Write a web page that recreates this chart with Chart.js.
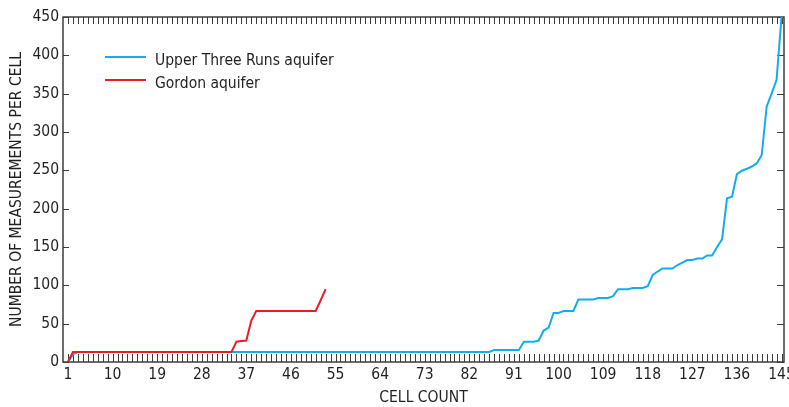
<!DOCTYPE html>
<html>
<head>
<meta charset="utf-8">
<script src="https://cdn.jsdelivr.net/npm/chart.js@4.4.1/dist/chart.umd.min.js"></script>
<style>
  html, body { margin: 0; padding: 0; background: #ffffff; }
  #wrap { width: 789px; height: 407px; position: relative; }
  canvas { display: block; }
</style>
</head>
<body>
<div id="wrap"><canvas id="chart" width="789" height="407"></canvas></div>
<script>
// Cells ranked by number of measurements (cell count on x).
const cellNumbers = Array.from({ length: 145 }, (_, i) => i + 1);

// Measurements per cell, Upper Three Runs aquifer (cells 1-145).
const upperThreeRuns = [
  0, 10,
  13, 13, 13, 13, 13, 13, 13, 13, 13, 13, 13, 13,
  13, 13, 13, 13, 13, 13, 13, 13, 13, 13, 13, 13,
  13, 13, 13, 13, 13, 13, 13, 13, 13, 13, 13, 13,
  13, 13, 13, 13, 13, 13, 13, 13, 13, 13, 13, 13,
  13, 13, 13, 13, 13, 13, 13, 13, 13, 13, 13, 13,
  13, 13, 13, 13, 13, 13, 13, 13, 13, 13, 13, 13,
  13, 13, 13, 13, 13, 13, 13, 13, 13, 13, 13, 13,
  15.5, 15.5, 15.5, 15.5, 15.5, 15.5,
  26.5, 26.5, 26.5, 28, 41, 45, 64, 64,
  66.5, 66.5, 66.5, 81.5, 81.5, 81.5, 81.5,
  83.5, 83.5, 83.5, 86, 95, 95, 95,
  96.5, 96.5, 96.5, 99, 113.5, 118,
  122, 122, 122, 126.5, 129.5, 133, 133, 135, 135, 139, 139,
  150, 160, 213.5, 215.5, 245, 249.5, 252, 255, 259, 270,
  333, 350, 368, 450
];

// Measurements per cell, Gordon aquifer (cells 1-53).
const gordon = [
  0, 13,
  13, 13, 13, 13, 13, 13, 13, 13, 13, 13, 13, 13, 13, 13, 13, 13,
  13, 13, 13, 13, 13, 13, 13, 13, 13, 13, 13, 13, 13, 13, 13, 13,
  26.5, 27.5, 28, 54,
  66.5, 66.5, 66.5, 66.5, 66.5, 66.5, 66.5, 66.5, 66.5, 66.5, 66.5, 66.5, 66.5,
  80.5, 95
];

const xTickLabels = [1, 10, 19, 28, 37, 46, 55, 64, 73, 82, 91, 100, 109, 118, 127, 136, 145];
const yTickLabels = [0, 50, 100, 150, 200, 250, 300, 350, 400, 450];

const seriesNames = ['Upper Three Runs aquifer', 'Gordon aquifer'];
const BLUE = '#14ade9';
const RED = '#ec1c24';
const AXIS = '#3c3c3c';
const TEXT = '#231f20';
const FONT = '"DejaVu Sans Condensed", "Liberation Sans Narrow", sans-serif';
const FONT_SIZE = 15.5;

const toPoints = (vals) => vals.map((v, i) => ({ x: cellNumbers[i], y: v }));

// Inward tick marks on all four sides plus the frame around the plot.
const frameTicks = {
  id: 'frameTicks',
  beforeDatasetsDraw(chart) {
    const { ctx, chartArea: a, scales: { x, y } } = chart;
    ctx.save();
    ctx.strokeStyle = AXIS;
    ctx.lineWidth = 1;
    ctx.beginPath();
    cellNumbers.forEach(n => {
      const px = Math.round(x.getPixelForValue(n)) + 0.5;
      ctx.moveTo(px, a.bottom); ctx.lineTo(px, a.bottom - 8);
      ctx.moveTo(px, a.top); ctx.lineTo(px, a.top + 7);
    });
    yTickLabels.forEach(v => {
      const py = Math.round(y.getPixelForValue(v)) + 0.5;
      ctx.moveTo(a.left, py); ctx.lineTo(a.left + 6, py);
      ctx.moveTo(a.right, py); ctx.lineTo(a.right - 7, py);
    });
    ctx.stroke();
    ctx.lineWidth = 1.5;
    ctx.strokeRect(a.left, a.top, a.right - a.left, a.bottom - a.top);
    ctx.restore();
  }
};

// Legend drawn inside the plot, upper left.
const insideLegend = {
  id: 'insideLegend',
  afterDraw(chart) {
    const { ctx } = chart;
    ctx.save();
    ctx.font = FONT_SIZE + 'px ' + FONT;
    ctx.textBaseline = 'alphabetic';
    ctx.fillStyle = TEXT;
    chart.data.datasets.forEach((ds, i) => {
      const yy = 57 + i * 23;
      ctx.strokeStyle = ds.borderColor;
      ctx.lineWidth = 2;
      ctx.beginPath();
      ctx.moveTo(105, yy); ctx.lineTo(146, yy);
      ctx.stroke();
      ctx.fillText(ds.label, 155, yy + 8);
    });
    ctx.restore();
  }
};

const font = { family: FONT, size: FONT_SIZE, lineHeight: 1.2 };

new Chart(document.getElementById('chart'), {
  type: 'line',
  data: {
    datasets: [
      { label: seriesNames[0], data: toPoints(upperThreeRuns), borderColor: BLUE, borderWidth: 2, pointRadius: 0, tension: 0, order: 2 },
      { label: seriesNames[1], data: toPoints(gordon), borderColor: RED, borderWidth: 2, pointRadius: 0, tension: 0, order: 1 }
    ]
  },
  options: {
    responsive: false,
    animation: false,
    devicePixelRatio: 1,
    layout: { autoPadding: false, padding: { top: 17, right: 5, left: 0, bottom: 0 } },
    plugins: { legend: { display: false }, tooltip: { enabled: false } },
    scales: {
      x: {
        type: 'linear',
        min: 0,
        max: 145.5,
        afterBuildTicks: (s) => { s.ticks = xTickLabels.map(v => ({ value: v })); },
        afterFit: (s) => { s.height = 45; s.paddingLeft = 0; s.paddingRight = 0; },
        grid: { display: false, drawTicks: false },
        border: { display: false },
        ticks: { autoSkip: false, maxRotation: 0, padding: 4, color: TEXT, font },
        title: { display: true, text: 'CELL COUNT', color: TEXT, padding: { top: 2, bottom: 0 }, font }
      },
      y: {
        type: 'linear',
        min: 0,
        max: 450,
        afterBuildTicks: (s) => { s.ticks = yTickLabels.map(v => ({ value: v })); },
        afterFit: (s) => { s.width = 63; s.paddingTop = 0; s.paddingBottom = 0; },
        grid: { display: false, drawTicks: false },
        border: { display: false },
        ticks: { autoSkip: false, padding: 4, color: TEXT, font },
        title: { display: true, text: 'NUMBER OF MEASUREMENTS PER CELL', color: TEXT, padding: { top: 8, bottom: 0 }, font }
      }
    }
  },
  plugins: [frameTicks, insideLegend]
});
</script>
</body>
</html>
